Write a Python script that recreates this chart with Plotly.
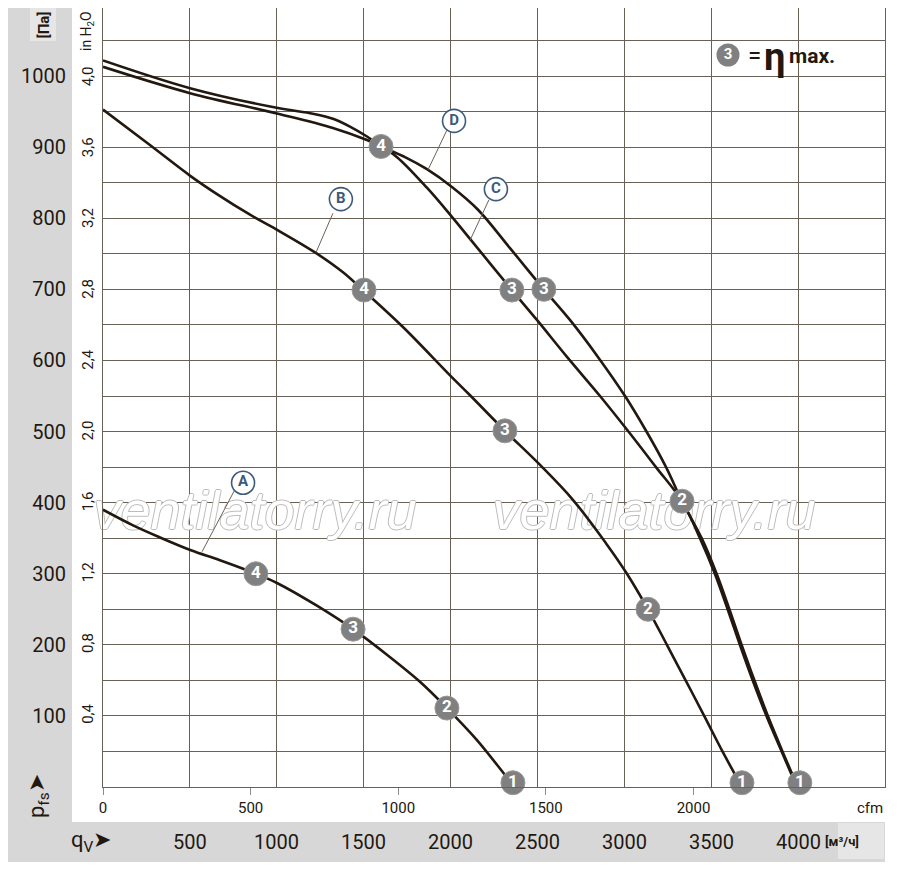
import plotly.graph_objects as go

# the page puts the figure 8px in from the top-left corner
OFF = 8
FIG_W, FIG_H = 900 - 2 * OFF, 870 - 2 * OFF
L, R, T, B = 103, 885, 8, 787  # plot area on screen, px

PA_PER_INH2O = 249.089
M3H_PER_CFM = 1.699

INK = "#221810"
GRID = "#6a6156"
DOT = "#808080"
TAG = "#3d5a78"
FONT = "Roboto, Arial"


def px_x(px):
    return (px - L) / (R - L)


def px_y(py):
    return (B - py) / (B - T)


# curves: q in m3/h, p in Pa
a_q = [0, 173, 328, 506, 673, 880, 1001, 1231, 1439, 1634, 1824, 1979, 2152, 2313, 2368]
a_p = [390, 368, 351, 333, 319, 300, 287, 255, 222, 186, 148, 111, 66, 17, 0]

b_q = [0, 270, 506, 656, 846, 1007, 1220, 1381, 1496, 1726, 1997, 2112, 2313, 2515, 2704,
       2894, 3015, 3136, 3245, 3355, 3464, 3567, 3677]
b_p = [953, 903, 859, 834, 805, 783, 752, 724, 699, 647, 579, 551, 501, 453, 404,
       343, 300, 250, 200, 149, 98, 49, 0]

c_q = [0, 501, 1007, 1208, 1323, 1421, 1519, 1600, 1692, 1864, 2008, 2112, 2353, 2497,
       2670, 2860, 3027, 3182, 3332, 3435, 3521, 3596, 3665, 3740, 3821, 3907, 3993]
c_p = [1022, 983, 955, 947, 940, 929, 915, 901, 886, 843, 802, 771, 699, 657,
       605, 550, 499, 450, 402, 350, 300, 249, 200, 149, 98, 49, 0]

d_q = [0, 501, 1007, 1323, 1519, 1600, 1738, 1864, 2008, 2158, 2342, 2537, 2687, 2848,
       3004, 3130, 3240, 3332, 3445, 3531, 3606, 3675, 3750, 3829, 3912, 3998]
d_p = [1013, 976, 947, 927, 910, 901, 886, 869, 844, 812, 758, 700, 657, 605,
       550, 499, 450, 402, 350, 300, 249, 200, 149, 98, 49, 0]

# numbered operating points
pt_a_q = [880, 1439, 1979, 2359]
pt_a_p = [300, 222, 111, 6]
pt_b_q = [1502, 2313, 3136, 3677]
pt_b_p = [699, 501, 250, 6]
pt_cd_q = [1600, 2353, 2537, 3332, 4010]
pt_cd_p = [901, 699, 700, 402, 6]
pt_a_txt = ["4", "3", "2", "1"]
pt_b_txt = ["4", "3", "2", "1"]
pt_cd_txt = ["4", "3", "3", "2", "1"]

# curve tags and their leader lines
tag_txt = ["A", "B", "C", "D"]
tag_q = [806, 1369, 2261, 2020]
tag_p = [428, 827, 841, 937]
lead_q0 = [754, 1323, 2221, 1979]
lead_p0 = [416, 807, 826, 924]
lead_q1 = [570, 1226, 2112, 1870]
lead_p1 = [331, 752, 769, 868]

# axis ticks
pa_ticks = [100, 200, 300, 400, 500, 600, 700, 800, 900, 1000]
pa_minor = [50, 150, 250, 350, 450, 550, 650, 750, 850, 950, 1050]
inh2o_ticks = [0.4, 0.8, 1.2, 1.6, 2.0, 2.4, 2.8, 3.2, 3.6, 4.0]
inh2o_text = ["0,4", "0,8", "1,2", "1,6", "2,0", "2,4", "2,8", "3,2", "3,6", "4,0"]
cfm_ticks = [0, 500, 1000, 1500, 2000]
m3h_ticks = [500, 1000, 1500, 2000, 2500, 3000, 3500, 4000]
watermark = "ventilatorry.ru"
q_max = 4500
# 1100 Pa sits at the top of the reference grid; our frame is 3px lower
p_max = 1100 * (B - T) / (787 - 5)

fig = go.Figure()

# watermark first so the curves run over it
outline = "1px 0 0 #bcbcbc, -1px 0 0 #bcbcbc, 0 1px 0 #bcbcbc, 0 -1px 0 #bcbcbc"
fig.add_trace(go.Scatter(
    x=[px_x(255) * q_max, px_x(654) * q_max], y=[px_y(515) * p_max] * 2,
    mode="text", text=[watermark] * 2, textposition="middle center",
    textfont=dict(family="Liberation Sans, Arial", size=54, color="white",
                  style="italic", shadow=outline),
    hoverinfo="skip", cliponaxis=False,
))

for q, p in [(a_q, a_p), (b_q, b_p), (c_q, c_p), (d_q, d_p)]:
    fig.add_trace(go.Scatter(
        x=q, y=p, mode="lines",
        line=dict(color=INK, width=2.6, shape="spline", smoothing=1.0),
        hoverinfo="skip", cliponaxis=False,
    ))

# leader lines
lx, ly = [], []
for i in range(len(tag_txt)):
    lx += [lead_q0[i], lead_q1[i], None]
    ly += [lead_p0[i], lead_p1[i], None]
fig.add_trace(go.Scatter(x=lx, y=ly, mode="lines",
                         line=dict(color="#6a6258", width=1), hoverinfo="skip"))

for q, p, t in [(pt_a_q, pt_a_p, pt_a_txt), (pt_b_q, pt_b_p, pt_b_txt),
                (pt_cd_q, pt_cd_p, pt_cd_txt)]:
    fig.add_trace(go.Scatter(
        x=q, y=p, mode="markers+text", text=t, textposition="middle center",
        marker=dict(size=24, color=DOT, line=dict(color="#9a9a9a", width=1)),
        textfont=dict(family=FONT, size=17, color="white", weight="bold"),
        hoverinfo="skip", cliponaxis=False,
    ))

fig.add_trace(go.Scatter(
    x=tag_q, y=tag_p, mode="markers+text", text=tag_txt, textposition="middle center",
    marker=dict(size=23, color="white", line=dict(color=TAG, width=1.6)),
    textfont=dict(family=FONT, size=15, color=TAG, weight="bold"),
    hoverinfo="skip", cliponaxis=False,
))

# legend dot  (3) = eta max.
fig.add_trace(go.Scatter(
    x=[px_x(728) * q_max], y=[px_y(55) * p_max],
    mode="markers+text", text=["3"], textposition="middle center",
    marker=dict(size=23, color=DOT),
    textfont=dict(family=FONT, size=15, color="white", weight="bold"),
    hoverinfo="skip", cliponaxis=False,
))

# dummy trace so the cfm / inH2O axes get drawn
fig.add_trace(go.Scatter(x=[0], y=[0], xaxis="x2", yaxis="y2", mode="markers",
                         marker=dict(opacity=0), hoverinfo="skip"))

shapes = [
    # grey side and bottom panels
    dict(type="rect", xref="paper", yref="paper", layer="below",
         x0=px_x(7), x1=px_x(72), y0=px_y(822), y1=px_y(8),
         fillcolor="#d7d7d7", line=dict(width=0)),
    dict(type="rect", xref="paper", yref="paper", layer="below",
         x0=px_x(7), x1=px_x(885), y0=px_y(862), y1=px_y(822),
         fillcolor="#d7d7d7", line=dict(width=0)),
    dict(type="rect", xref="paper", yref="paper", layer="below",
         x0=px_x(30), x1=px_x(56), y0=px_y(41), y1=px_y(8),
         fillcolor="#e6e6e6", line=dict(width=0)),
    dict(type="rect", xref="paper", yref="paper", layer="below",
         x0=px_x(838), x1=px_x(884), y0=px_y(859), y1=px_y(823),
         fillcolor="#e6e6e6", line=dict(width=0)),
    # white legend box over the grid
    dict(type="rect", xref="paper", yref="paper", layer="between",
         x0=px_x(705), x1=px_x(873), y0=px_y(87), y1=px_y(25),
         fillcolor="white", line=dict(width=0)),
]

annotations = []
for v in m3h_ticks:
    annotations.append(dict(
        text=str(v), xref="x", yref="paper", x=v, y=px_y(842), yanchor="middle",
        showarrow=False, font=dict(family=FONT, size=20, color=INK),
    ))

annotations += [
    dict(text="cfm", xref="paper", yref="paper", x=px_x(885), y=px_y(808),
         xanchor="right", yanchor="middle", showarrow=False,
         font=dict(family=FONT, size=15, color=INK)),
    dict(text="q<sub>V</sub>➤", xref="paper", yref="paper", x=px_x(69), y=px_y(842),
         xanchor="left", yanchor="middle", showarrow=False,
         font=dict(family=FONT, size=22, color=INK)),
    dict(text="p<sub>fs</sub>➤", xref="paper", yref="paper", x=px_x(38), y=px_y(820),
         xanchor="center", yanchor="bottom", textangle=-90, showarrow=False,
         font=dict(family=FONT, size=22, color=INK)),
    dict(text="[Па]", xref="paper", yref="paper", x=px_x(43), y=px_y(10),
         xanchor="center", yanchor="top", textangle=-90, showarrow=False,
         font=dict(family=FONT, size=15, color=INK, weight="bold")),
    dict(text="in H<sub>2</sub>O", xref="paper", yref="paper", x=px_x(87), y=px_y(9),
         xanchor="center", yanchor="top", textangle=-90, showarrow=False,
         font=dict(family=FONT, size=14, color=INK)),
    dict(text="[м³/ч]", xref="paper", yref="paper", x=px_x(861), y=px_y(841),
         yanchor="middle", showarrow=False,
         font=dict(family=FONT, size=13, color=INK, weight="bold")),
    dict(text="=", xref="paper", yref="paper", x=px_x(746), y=px_y(56),
         xanchor="left", yanchor="middle", showarrow=False,
         font=dict(family=FONT, size=24, color=INK)),
    dict(text="η", xref="paper", yref="paper", x=px_x(762), y=px_y(57),
         xanchor="left", yanchor="middle", showarrow=False,
         font=dict(family=FONT, size=38, color=INK, weight="bold")),
    dict(text="max.", xref="paper", yref="paper", x=px_x(787), y=px_y(56),
         xanchor="left", yanchor="middle", showarrow=False,
         font=dict(family=FONT, size=21, color=INK, weight="bold")),
]

fig.update_layout(
    width=FIG_W, height=FIG_H, autosize=False,
    margin=dict(l=L - OFF, r=FIG_W - (R - OFF), t=T - OFF, b=FIG_H - (B - OFF), pad=0),
    paper_bgcolor="white", plot_bgcolor="white",
    showlegend=False,
    font=dict(family=FONT, color=INK),
    shapes=shapes, annotations=annotations,
    xaxis=dict(
        range=[0, q_max], dtick=500, tick0=0, showticklabels=False, ticks="",
        showgrid=True, gridcolor=GRID, gridwidth=1, zeroline=False,
        showline=True, mirror=True, linecolor=GRID, linewidth=1,
    ),
    xaxis2=dict(
        range=[0, q_max / M3H_PER_CFM], overlaying="x", anchor="y", side="bottom",
        tickvals=cfm_ticks, ticks="outside", ticklen=7, tickcolor="#8a8a8a",
        showgrid=False, zeroline=False, showline=False,
        tickfont=dict(family=FONT, size=15, color=INK),
    ),
    yaxis=dict(
        range=[0, p_max], tickvals=pa_ticks, ticks="", ticklabelstandoff=32,
        showgrid=True, gridcolor=GRID, gridwidth=1, zeroline=False,
        showline=True, mirror=True, linecolor=GRID, linewidth=1,
        tickfont=dict(family=FONT, size=20, color=INK),
        minor=dict(tickvals=pa_minor, showgrid=True, gridcolor=GRID, gridwidth=1, ticks=""),
    ),
    yaxis2=dict(
        range=[0, p_max / PA_PER_INH2O], overlaying="y", anchor="x", side="left",
        tickvals=inh2o_ticks, ticktext=inh2o_text, tickangle=-90, ticks="",
        ticklabelstandoff=6, showgrid=False, zeroline=False, showline=False,
        tickfont=dict(family=FONT, size=15, color=INK),
    ),
)

fig.write_html("out.html")
